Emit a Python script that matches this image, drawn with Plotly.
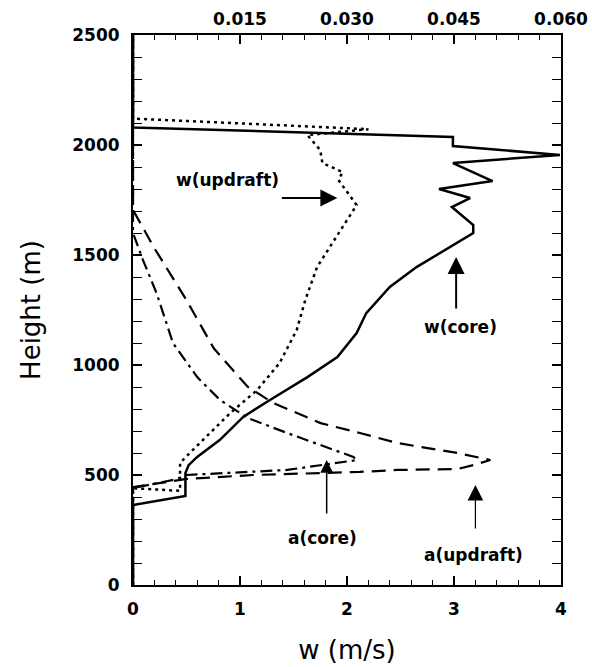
import plotly.graph_objects as go

# ---- data ----
w_core_w = [0, 0, 0.49, 0.49, 0.52, 0.60, 0.81, 1.03, 1.28, 1.63, 1.91, 2.09, 2.18, 2.40, 2.65, 2.87, 3.18, 3.18,
            2.98, 3.15, 2.86, 3.36, 2.99, 3.99, 2.99, 2.99, 0, 0]
w_core_h = [0, 364, 405, 509, 545, 582, 659, 764, 841, 945, 1036, 1145, 1236, 1355, 1445, 1509, 1600, 1636,
            1718, 1759, 1800, 1836, 1918, 1955, 1995, 2036, 2080, 2500]

w_upd_w = [0, 0, 0.44, 0.44, 0.53, 0.65, 0.91, 1.16, 1.37, 1.53, 1.61, 1.72, 2.09, 1.92, 1.96, 1.77, 1.75, 1.63,
           2.20, 0, 0]
w_upd_h = [0, 440, 428, 555, 600, 659, 782, 886, 1009, 1159, 1295, 1445, 1727, 1841, 1877, 1918, 1977, 2045,
           2072, 2120, 2500]

a_core_a = [0, 0, 0.0014, 0.0033, 0.0056, 0.0090, 0.0122, 0.0161, 0.0216, 0.0272, 0.0309, 0.0314, 0.0287,
            0.0216, 0.0075, 0.0060, 0, 0]
a_core_h = [2500, 1600, 1477, 1327, 1100, 945, 841, 759, 691, 627, 582, 568, 555, 523, 500, 480, 441, 0]

a_upd_a = [0, 0, 0.0029, 0.0075, 0.0113, 0.0161, 0.0197, 0.0263, 0.0318, 0.0371, 0.0455, 0.0501, 0.0477,
           0.0455, 0.0371, 0.0318, 0.0168, 0.0075, 0, 0]
a_upd_h = [2500, 1705, 1536, 1295, 1077, 900, 827, 736, 691, 645, 600, 568, 545, 527, 523, 514, 500, 482, 445, 0]

top_ticks = [0.015, 0.030, 0.045, 0.060]
left_ticks = [0, 500, 1000, 1500, 2000, 2500]
bottom_ticks = [0, 1, 2, 3, 4]

labels = [
    # text, arrow-head x, arrow-head y, tail dx, tail dy (pixels), text x, text y, arrow width
    ("w(updraft)", 1.91, 1759, -57, 0, 0.88, 1841, 2),
    ("w(core)", 3.02, 1491, 0, 53, 3.06, 1173, 2),
    ("a(core)", 1.81, 568, 0, 55, 1.77, 214, 1.5),
    ("a(updraft)", 3.20, 455, 0, 45, 3.18, 136, 1.2),
]

TICKFONT = dict(family="DejaVu Sans", size=17, color="black", weight="bold")

fig = go.Figure()
fig.add_trace(go.Scatter(x=w_core_w, y=w_core_h, mode="lines", xaxis="x", yaxis="y",
                         line=dict(color="black", width=2.5), showlegend=False))
fig.add_trace(go.Scatter(x=w_upd_w, y=w_upd_h, mode="lines", xaxis="x", yaxis="y",
                         line=dict(color="black", width=2.5, dash="3px,4px"), showlegend=False))
fig.add_trace(go.Scatter(x=a_upd_a, y=a_upd_h, mode="lines", xaxis="x2", yaxis="y",
                         line=dict(color="black", width=2.2, dash="14px,8px"), showlegend=False))
fig.add_trace(go.Scatter(x=a_core_a, y=a_core_h, mode="lines", xaxis="x2", yaxis="y",
                         line=dict(color="black", width=2.2, dash="12px,5px,3px,5px"), showlegend=False))

annotations = []
for text, hx, hy, dx, dy, tx, ty, aw in labels:
    annotations.append(dict(x=hx, y=hy, xref="x", yref="y", ax=dx, ay=dy, text="", showarrow=True,
                            arrowhead=2, arrowsize=1.7 if aw > 1.4 else 2.6, arrowwidth=aw,
                            arrowcolor="black", standoff=0, startstandoff=0))
    annotations.append(dict(x=tx, y=ty, xref="x", yref="y", text=text, showarrow=False,
                            font=dict(family="DejaVu Sans", size=17, color="black", weight="bold")))

fig.update_layout(
    width=592, height=667,
    margin=dict(l=133, r=31, t=35, b=82, autoexpand=False),
    paper_bgcolor="white", plot_bgcolor="white",
    xaxis=dict(range=[0, 4], tickvals=bottom_ticks, ticks="inside", ticklen=9, tickwidth=1.5,
               tickcolor="black", showline=True, linecolor="black", linewidth=2, mirror=True,
               showgrid=False, zeroline=False, tickfont=TICKFONT, ticklabelstandoff=8, automargin=False,
               minor=dict(dtick=0.2, ticks="inside", ticklen=5, tickwidth=1.2, tickcolor="black", showgrid=False),
               title=dict(text="w (m/s)", font=dict(family="DejaVu Sans", size=26, color="black"), standoff=22)),
    xaxis2=dict(range=[0, 0.06], overlaying="x", side="top", anchor="y", tickvals=top_ticks,
                tickformat=".3f", ticks="inside", ticklen=9, tickwidth=1.5, tickcolor="black",
                showgrid=False, zeroline=False, tickfont=TICKFONT, ticklabelstandoff=6, automargin=False,
                minor=dict(dtick=0.003, ticks="inside", ticklen=5, tickwidth=1.2, tickcolor="black", showgrid=False)),
    yaxis=dict(range=[0, 2500], tickvals=left_ticks, ticks="inside", ticklen=9, tickwidth=1.5,
               tickcolor="black", showline=True, linecolor="black", linewidth=2, mirror="allticks",
               showgrid=False, zeroline=False, tickfont=TICKFONT, ticklabelstandoff=8, automargin=False,
               minor=dict(dtick=100, ticks="inside", ticklen=5, tickwidth=1.2, tickcolor="black", showgrid=False),
               title=dict(text="Height (m)", font=dict(family="DejaVu Sans", size=26, color="black"), standoff=24)),
    annotations=annotations,
)

fig.write_html("out.html")
